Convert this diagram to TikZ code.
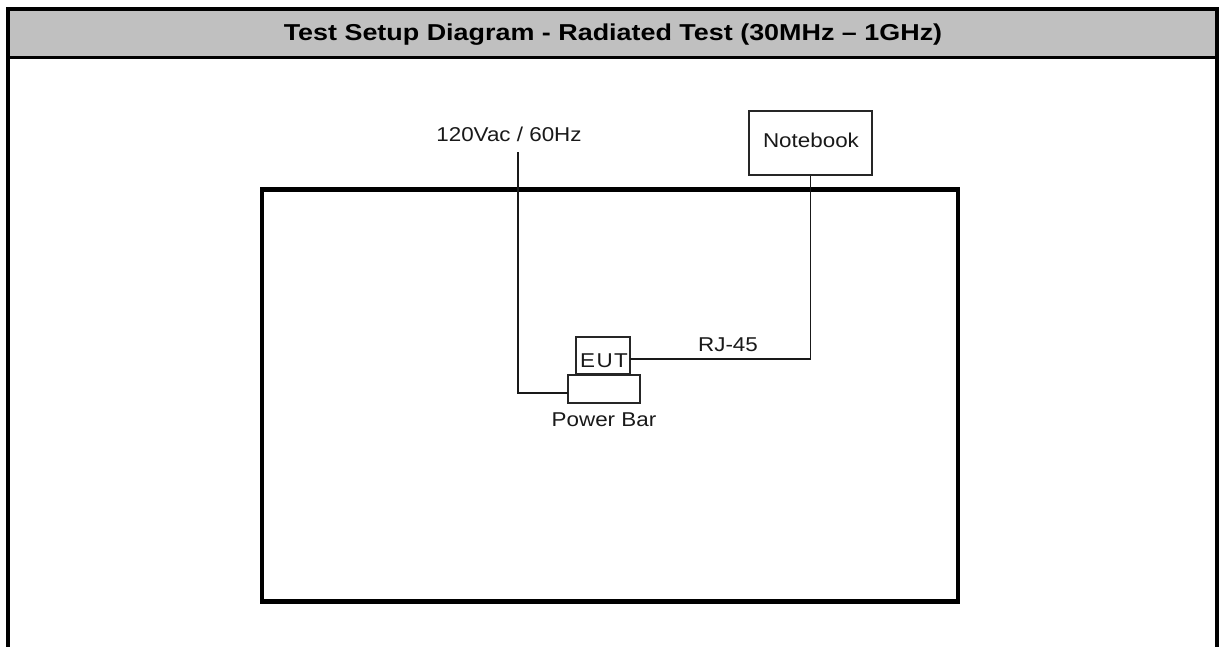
\documentclass[tikz,border=0pt]{standalone}
\usepackage{fontspec}
\setmainfont{Liberation Sans}
\newfontfamily\lblfont[FakeStretch=1.12]{Liberation Sans}
\newfontfamily\titlefont[FakeStretch=1.17,Ligatures=TeX]{Liberation Sans}
\begin{document}
\begin{tikzpicture}[x=1pt,y=-1pt,
  lbl/.style={font=\lblfont\fontsize{20}{22}\selectfont, text=black!90, inner sep=0pt, anchor=base},
  box/.style={draw=black!85, line width=1.5pt, fill=white, inner sep=0pt},
  wire/.style={draw=black!90, line width=1.5pt},
  heavy/.style={draw=black, line width=4.5pt}
]
\useasboundingbox (0,0) rectangle (1219,647);
% table frame and header
\fill[fill={rgb,255:red,192;green,192;blue,192}] (8,9) rectangle (1217,57.5);
\draw[line width=4pt] (8,647) -- (8,9) -- (1217,9) -- (1217,647);
\draw[line width=3pt] (8,57.5) -- (1217,57.5);
\node[inner sep=0pt, anchor=base, font=\titlefont\bfseries\fontsize{23}{26}\selectfont] (title) at (613,41) {Test Setup Diagram - Radiated Test (30MHz – 1GHz)};
% test area
\node[heavy, rectangle, minimum width=696pt, minimum height=412pt, inner sep=0pt] (room) at (610,395.5) {};
% notebook
\node[box, minimum width=123pt, minimum height=64pt] (notebook) at (810.5,143) {};
\node[lbl] (nbtext) at (811,148) {Notebook};
% power bar and EUT
\node[box, minimum width=72pt, minimum height=28pt] (pbar) at (604,389) {};
\node[box, minimum width=54pt, minimum height=37pt] (eut) at (603,355.5) {};
\node[lbl] (euttext) at (604,367) {E\hspace{1.5pt}U\hspace{1.5pt}T};
\node[lbl] (pbtext) at (604,426) {Power Bar};
% labels
\node[lbl] (ac) at (509,142) {120Vac / 60Hz};
\node[lbl] (rj) at (728,352) {RJ-45};
% connectors
\coordinate (actop) at (518,152);
\coordinate (pin) at (568,393);
\coordinate (eutport) at (630,359);
\draw[wire] (pin) -| (actop);
\draw[wire] (eutport) -| (notebook.south);
\end{tikzpicture}
\end{document}
